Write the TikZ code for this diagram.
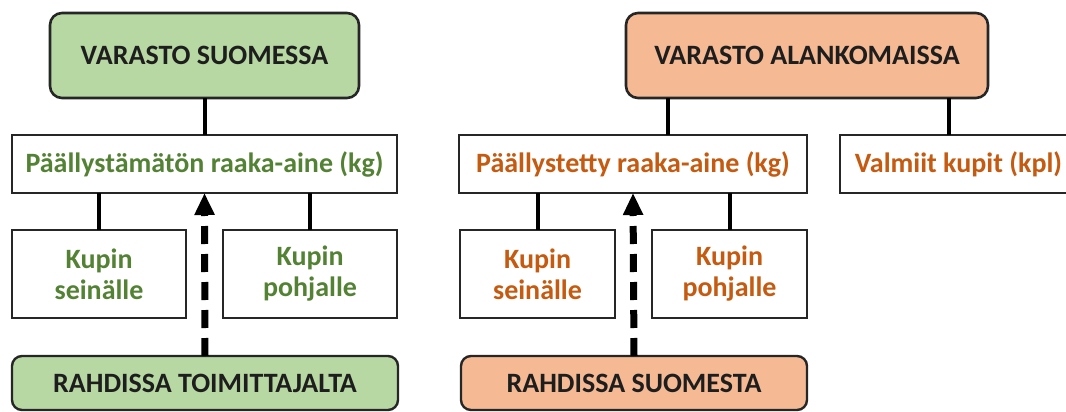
\documentclass[tikz,border=0pt]{standalone}
\usepackage{fontspec}
\setmainfont{Carlito}
\usetikzlibrary{arrows.meta}

\definecolor{fillgreen}{HTML}{B7D8A2}
\definecolor{fillorange}{HTML}{F5B994}
\definecolor{txtgreen}{HTML}{548235}
\definecolor{txtorange}{HTML}{C55A11}
\definecolor{txtdark}{HTML}{1E1E1E}

\tikzset{
  base/.style={draw=black!85, inner sep=0pt, outer sep=0pt, align=center,
    font=\bfseries\fontsize{28pt}{31pt}\selectfont},
  headbox/.style={base, line width=2.6pt, rounded corners=12pt, text=txtdark},
  footbox/.style={base, line width=2.4pt, rounded corners=10pt, text=txtdark},
  itembox/.style={base, line width=1.8pt, fill=white},
  link/.style={line width=4pt, black},
  flow/.style={line width=7pt, black, dash pattern=on 18pt off 10pt,
    -{Triangle[width=19pt,length=22pt]}},
}

\begin{document}
\begin{tikzpicture}[x=1pt,y=-1pt]
\useasboundingbox (0,0) rectangle (1066,412);
\clip (0,0) rectangle (1066,412);

% Finnish warehouse
\node[headbox, fill=fillgreen, minimum width=309pt, minimum height=85pt] (vs) at (204.5,55.5) {VARASTO SUOMESSA};
\node[itembox, text=txtgreen, minimum width=385pt, minimum height=58pt] (pr1) at (204.5,164) {Päällystämätön raaka-aine (kg)};
\node[itembox, text=txtgreen, minimum width=174pt, minimum height=88pt] (ks1) at (99,274) {Kupin\\seinälle};
\node[itembox, text=txtgreen, minimum width=174pt, minimum height=88pt] (kp1) at (310,274) {Kupin\\pohjalle};
\node[footbox, fill=fillgreen, minimum width=386pt, minimum height=54pt] (rt1) at (205,383) {RAHDISSA TOIMITTAJALTA};

\draw[link] (vs.south) -- (pr1.north);
\draw[link] (ks1.north) -- (ks1.north |- pr1.south);
\draw[link] (kp1.north) -- (kp1.north |- pr1.south);
\draw[flow] (rt1.north) -- (pr1.south);

% Dutch warehouse
\node[headbox, fill=fillorange, minimum width=362pt, minimum height=85pt] (va) at (807,55.5) {VARASTO ALANKOMAISSA};
\node[itembox, text=txtorange, minimum width=348pt, minimum height=58pt] (pr2) at (633,164) {Päällystetty raaka-aine (kg)};
\node[itembox, text=txtorange, minimum width=237pt, minimum height=58pt] (vk) at (958.5,164) {Valmiit kupit (kpl)};
\node[itembox, text=txtorange, minimum width=155pt, minimum height=88pt] (ks2) at (537.5,274) {Kupin\\seinälle};
\node[itembox, text=txtorange, minimum width=155pt, minimum height=88pt] (kp2) at (729.5,274) {Kupin\\pohjalle};
\node[footbox, fill=fillorange, minimum width=346pt, minimum height=54pt] (rt2) at (634,383) {RAHDISSA SUOMESTA};

\coordinate (colA) at (668,0);
\coordinate (colB) at (949,0);
\draw[link] (va.south -| colA) -- (pr2.north -| colA);
\draw[link] (va.south -| colB) -- (vk.north -| colB);
\draw[link] (ks2.north) -- (ks2.north |- pr2.south);
\draw[link] (kp2.north) -- (kp2.north |- pr2.south);
\draw[flow] (rt2.north) -- (pr2.south);
\end{tikzpicture}
\end{document}
